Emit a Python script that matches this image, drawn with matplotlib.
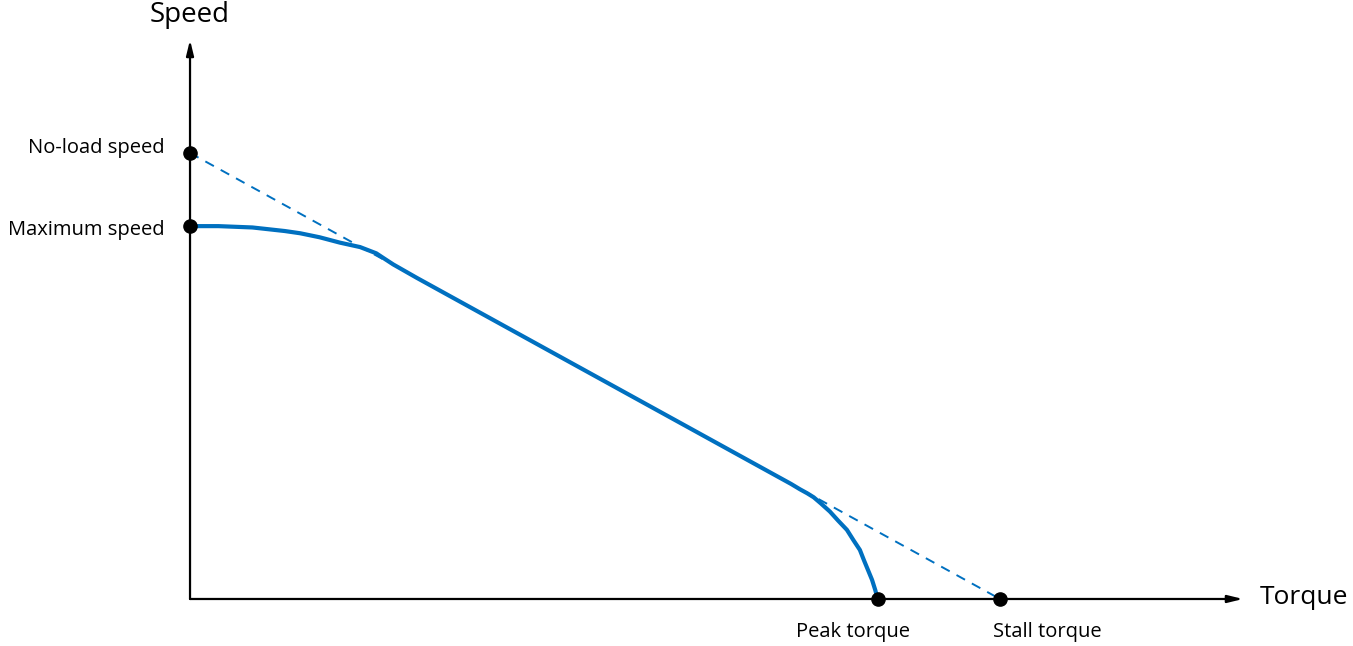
import matplotlib.pyplot as plt

# Speed-torque curve points (normalised: stall torque = 1, no-load speed = 1)
curve_torque = [0.0, 0.035, 0.077, 0.117, 0.136, 0.160, 0.185, 0.210, 0.230, 0.240,
                0.251, 0.280, 0.500, 0.728, 0.742, 0.753, 0.762, 0.770, 0.779, 0.790,
                0.800, 0.811, 0.819, 0.827, 0.832, 0.837, 0.842, 0.846, 0.849]
curve_speed = [0.836, 0.836, 0.833, 0.825, 0.820, 0.811, 0.799, 0.789, 0.775, 0.763,
               0.750, 0.720, 0.500, 0.272, 0.258, 0.246, 0.237, 0.228, 0.214, 0.196,
               0.176, 0.155, 0.132, 0.110, 0.087, 0.065, 0.043, 0.020, 0.0]

noload_speed = 1.0
max_speed = 0.836
peak_torque = 0.849
stall_torque = 1.0

blue = "#0070C0"
plt.rcParams["font.family"] = ["Open Sans", "DejaVu Sans"]

fig = plt.figure(figsize=(13.53, 6.46), dpi=100)
ax = fig.add_axes([0, 0, 1, 1])
ax.set_xlim(-0.2346, 1.4358)
ax.set_ylim(-0.1054, 1.3430)
ax.axis("off")

# axes with arrows
arrow = dict(arrowstyle="-|>,head_length=0.9,head_width=0.22", color="black", lw=1.6,
             shrinkA=0, shrinkB=0)
ax.annotate("", xy=(1.300, 0), xytext=(0, 0), arrowprops=arrow)
ax.annotate("", xy=(0, 1.2534), xytext=(0, 0), arrowprops=arrow)

# ideal linear characteristic
ax.plot([0, stall_torque], [noload_speed, 0], color=blue, lw=1.4, ls=(0, (5, 4)))
# actual curve
ax.plot(curve_torque, curve_speed, color=blue, lw=3.0, solid_capstyle="round",
        solid_joinstyle="round")

# key points
ax.plot([0, 0, peak_torque, stall_torque], [noload_speed, max_speed, 0, 0],
        "o", color="black", ms=9.5, zorder=5, clip_on=False)

ax.text(0, 1.309, "Speed", fontsize=20, ha="center", va="center")
ax.text(1.321, 0.004, "Torque", fontsize=19, ha="left", va="center")
ax.text(-0.031, 1.011, "No-load speed", fontsize=14.5, ha="right", va="center")
ax.text(-0.031, 0.827, "Maximum speed", fontsize=14.5, ha="right", va="center")
ax.text(0.819, -0.074, "Peak torque", fontsize=14.5, ha="center", va="center")
ax.text(1.059, -0.074, "Stall torque", fontsize=14.5, ha="center", va="center")

fig.savefig("out.png", dpi=100)
